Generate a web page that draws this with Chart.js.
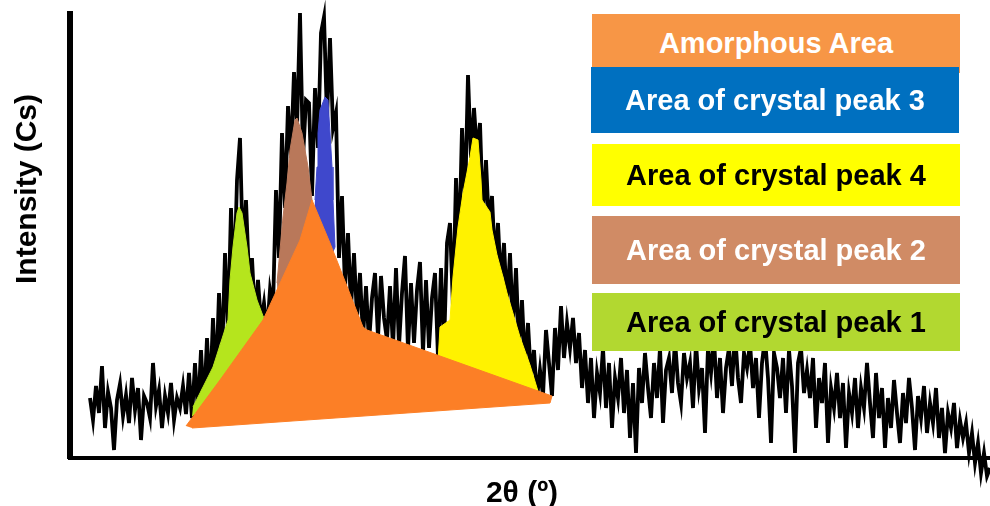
<!DOCTYPE html>
<html>
<head>
<meta charset="utf-8">
<script src="https://cdn.jsdelivr.net/npm/chart.js@4"></script>
<style>
html,body{margin:0;padding:0;background:#fff;}
#wrap{position:relative;width:990px;height:506px;overflow:hidden;background:#fff;}
canvas{position:absolute;left:0;top:0;}
.box{position:absolute;display:flex;align-items:center;justify-content:center;font:bold 29px "Liberation Sans",Arial,sans-serif;white-space:nowrap;}
.title{position:absolute;font:bold 30px "Liberation Sans",Arial,sans-serif;line-height:30px;white-space:nowrap;text-align:center;color:#000;}
</style>
</head>
<body>
<div id="wrap"><canvas id="c" width="990" height="506"></canvas></div>
<script>
// ---- data ----
const twoThetaStart = 11.0;   // degrees
const twoThetaStep = 0.15;    // degrees between readings
const intensity = [
  60, 38, 72, 45, 92, 30, 66, 50, 8, 58, 74, 42, 63, 35, 80, 48, 70, 18, 62, 55,
  40, 95, 52, 68, 30, 62, 45, 75, 38, 60, 50, 72, 44, 85, 40, 95, 45, 108, 50, 120,
  60, 140, 75, 165, 95, 205, 125, 250, 170, 278, 320, 200, 258, 180, 200, 140, 178, 135, 155, 125,
  168, 150, 268, 200, 325, 250, 352, 300, 386, 330, 445, 300, 358, 355, 262, 370, 310, 425, 441, 340,
  420, 330, 345, 200, 262, 170, 225, 150, 205, 140, 185, 120, 172, 115, 160, 185, 120, 182, 140, 118,
  172, 110, 190, 112, 165, 202, 108, 175, 115, 168, 196, 105, 178, 110, 160, 185, 100, 190, 110, 215,
  235, 150, 280, 205, 330, 255, 383, 300, 350, 305, 335, 240, 298, 230, 262, 195, 235, 172, 215, 150,
  205, 130, 190, 110, 158, 92, 135, 80, 108, 60, 88, 62, 128, 95, 62, 130, 88, 152, 100, 135,
  110, 140, 95, 125, 70, 108, 55, 100, 40, 85, 65, 110, 50, 95, 30, 80, 60, 100, 45, 88,
  20, 75, 5, 90, 55, 105, 70, 40, 95, 60, 110, 35, 88, 100, 65, 118, 75, 55, 105, 80,
  95, 50, 115, 70, 90, 25, 110, 85, 120, 60, 100, 45, 90, 110, 72, 125, 80, 55, 105, 90,
  115, 70, 100, 40, 95, 120, 80, 15, 105, 90, 60, 100, 45, 108, 72, 5, 95, 110, 65, 88,
  60, 100, 30, 80, 55, 95, 15, 70, 50, 85, 40, 75, 10, 65, 45, 80, 30, 70, 50, 95,
  55, 20, 85, 40, 70, 10, 60, 30, 78, 45, 15, 65, 35, 80, 50, 8, 62, 40, 72, 25,
  55, 35, 70, 20, 50, 5, 45, 30, 55, 10, 38, 20, 35, 5, 25, -5, 15, -15, 5, -18,
  -10
];
// [2θ, intensity] outlines of the shaded areas
const amorphousArea = [[15.8,32],[17.5,78],[19.65,138],[21.5,218],[22.1,258],[23.0,215],[24.65,131],[24.85,128],[34.1,62],[34.0,55],[16.1,30]];
const peak1Area = [[16.15,51],[17.15,91],[17.9,138],[18.0,178],[18.15,211],[18.35,245],[18.45,251],[18.6,245],[18.85,211],[19.0,185],[19.35,158],[19.65,142],[19.65,125],[17.0,60],[16.1,42]];
const peak2Area = [[20.35,175],[20.5,208],[20.65,241],[20.85,275],[21.0,308],[21.25,338],[21.35,340],[21.6,325],[21.75,308],[21.9,291],[22.1,258],[21.8,190],[20.4,150]];
const peak3Area = [[22.25,258],[22.35,291],[22.4,325],[22.5,348],[22.75,361],[22.9,358],[23.0,325],[23.1,291],[23.15,258],[23.25,211],[22.9,195],[22.2,240]];
const peak4Area = [[28.4,96],[28.5,131],[29.0,138],[29.15,181],[29.4,231],[29.65,265],[30.0,301],[30.15,320],[30.4,318],[30.55,278],[30.6,258],[31.0,246],[31.1,228],[31.35,203],[31.65,181],[31.85,165],[32.5,121],[33.0,93],[33.35,70],[33.5,60],[28.4,88]];
const legendLabels = ['Amorphous Area', 'Area of crystal peak 3', 'Area of crystal peak 4', 'Area of crystal peak 2', 'Area of crystal peak 1'];
const xTitle = '2θ (º)';
const yTitle = 'Intensity (Cs)';
const xRange = [10, 56];
const yRange = [0, 444];

// ---- styles / layout ----
const legendStyle = [
  {left:592, top:14,  w:368, h:59, bg:'#F79646', fg:'#FFFFFF'},
  {left:591, top:67,  w:368, h:66, bg:'#0070C0', fg:'#FFFFFF'},
  {left:592, top:144, w:368, h:62, bg:'#FFFF00', fg:'#000000'},
  {left:592, top:216, w:368, h:68, bg:'#D08B65', fg:'#FFFFFF'},
  {left:592, top:293, w:368, h:58, bg:'#B2D830', fg:'#000000'}
];
const toXY = arr => arr.map(p => ({x:p[0], y:p[1]}));
const signal = intensity.map((v,i) => ({x: twoThetaStart + i*twoThetaStep, y: v}));

function area(label, pts, color, order){
  return {label, data: toXY(pts), fill:'shape', backgroundColor: color, borderColor: color,
          borderWidth: 1, pointRadius: 0, tension: 0, order};
}

new Chart(document.getElementById('c'), {
  type: 'line',
  data: {
    datasets: [
      area(legendLabels[0], amorphousArea, '#FC7F26', 1),
      area(legendLabels[4], peak1Area, '#B5E51D', 2),
      area(legendLabels[3], peak2Area, '#B9785A', 2),
      area(legendLabels[1], peak3Area, '#3F48CC', 2),
      area(legendLabels[2], peak4Area, '#FFF200', 2),
      {label:'XRD pattern', data: signal, borderColor:'#000', borderWidth:3.8, pointRadius:0,
       fill:false, tension:0, order:3, clip:false}
    ]
  },
  options: {
    responsive: false,
    animation: false,
    events: [],
    layout: {padding: {left:70, right:0, top:14, bottom:48}},
    plugins: {legend:{display:false}, tooltip:{enabled:false}},
    scales: {
      x: {type:'linear', min:xRange[0], max:xRange[1], ticks:{display:false},
          grid:{display:false, drawTicks:false}, border:{display:true, color:'#000', width:4},
          afterFit: s => { s.height = 0; }},
      y: {type:'linear', min:yRange[0], max:yRange[1], ticks:{display:false},
          grid:{display:false, drawTicks:false}, border:{display:true, color:'#000', width:6},
          afterFit: s => { s.width = 0; }}
    }
  }
});

// legend boxes
const wrap = document.getElementById('wrap');
legendLabels.forEach((t, i) => {
  const s = legendStyle[i];
  const d = document.createElement('div');
  d.className = 'box';
  d.style.left = s.left + 'px'; d.style.top = s.top + 'px';
  d.style.width = s.w + 'px'; d.style.height = s.h + 'px';
  d.style.background = s.bg; d.style.color = s.fg;
  d.textContent = t;
  wrap.appendChild(d);
});
// axis titles
const xt = document.createElement('div');
xt.className = 'title'; xt.textContent = xTitle;
xt.style.left = '422px'; xt.style.top = '477px'; xt.style.width = '200px';
wrap.appendChild(xt);
const yt = document.createElement('div');
yt.className = 'title'; yt.textContent = yTitle;
yt.style.left = '-124px'; yt.style.top = '174px'; yt.style.width = '300px';
yt.style.transform = 'rotate(-90deg)';
wrap.appendChild(yt);
</script>
</body>
</html>
